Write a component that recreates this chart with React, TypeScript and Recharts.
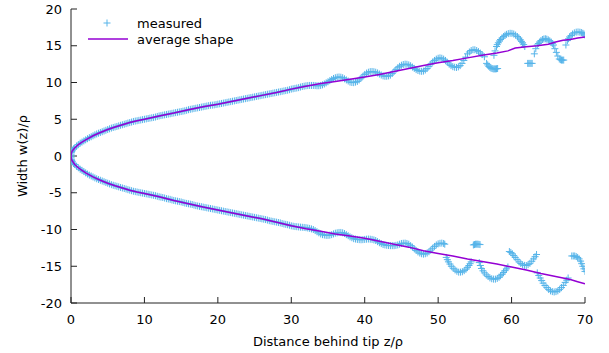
import React from 'react';
import { ScatterChart, Scatter, XAxis, YAxis, Legend } from 'recharts';

const xTicks = [0, 10, 20, 30, 40, 50, 60, 70];
const yTicks = [-20, -15, -10, -5, 0, 5, 10, 15, 20];

const measuredUpperSmooth = [[0,0],[0.02,0.25],[0.05,0.45],[0.1,0.6],[0.2,0.8],[0.35,0.95],[0.5,1.1],[0.75,1.35],[1,1.55],[1.25,1.75],[1.5,1.9],[1.75,2.05],[2,2.2],[2.5,2.5],[3,2.75],[3.5,3.0],[4,3.2],[4.5,3.4],[5,3.6],[5.5,3.8],[6,3.95],[6.5,4.1],[7,4.25],[7.5,4.4],[8,4.55],[8.5,4.7],[9,4.8],[9.5,4.9],[10,5.0],[10.5,5.1],[11,5.2],[11.5,5.3],[12,5.45],[12.5,5.55],[13,5.65],[13.5,5.75],[14,5.85],[14.5,5.95],[15,6.05],[15.5,6.15],[16,6.3],[16.5,6.4],[17,6.5],[17.5,6.6],[18,6.7],[18.5,6.8],[19,6.9],[19.5,6.95],[20,7.05],[20.5,7.15],[21,7.25],[21.5,7.35],[22,7.45],[22.5,7.55],[23,7.65],[23.5,7.75],[24,7.85],[24.5,7.95],[25,8.05],[25.5,8.15],[26,8.25],[26.5,8.35],[27,8.45],[27.5,8.55],[28,8.65],[28.5,8.75],[29,8.85],[29.5,8.95],[30,9.1],[30.5,9.2],[31,9.3],[31.5,9.45]];

const measuredUpperSmoothB = [[2.25,2.35],[2.75,2.62],[3.25,2.88],[3.75,3.1],[4.25,3.3],[4.75,3.5],[5.25,3.7],[5.75,3.88],[6.25,4.02],[6.75,4.18],[7.25,4.32],[7.75,4.48],[8.25,4.62],[8.75,4.75],[9.25,4.85],[9.75,4.95],[10.25,5.05],[10.75,5.15],[11.25,5.25],[11.75,5.38],[12.25,5.5],[12.75,5.6],[13.25,5.7],[13.75,5.8],[14.25,5.9],[14.75,6.0],[15.25,6.1],[15.75,6.22],[16.25,6.35],[16.75,6.45],[17.25,6.55],[17.75,6.65],[18.25,6.75],[18.75,6.85],[19.25,6.92],[19.75,7.0],[20.25,7.1],[20.75,7.2],[21.25,7.3],[21.75,7.4],[22.25,7.5],[22.75,7.6],[23.25,7.7],[23.75,7.8],[24.25,7.9],[24.75,8.0],[25.25,8.1],[25.75,8.2],[26.25,8.3],[26.75,8.4],[27.25,8.5],[27.75,8.6],[28.25,8.7],[28.75,8.8],[29.25,8.9],[29.75,9.02],[30.25,9.15],[30.75,9.25],[31.25,9.38],[31.75,9.5]];

const measuredUpperWave = [[32,9.55],[32.25,9.58],[32.5,9.6],[32.75,9.6],[33,9.6],[33.25,9.58],[33.5,9.55],[33.75,9.56],[34,9.6],[34.25,9.68],[34.5,9.8],[34.75,9.95],[35,10.1],[35.25,10.25],[35.5,10.4],[35.75,10.55],[36,10.65],[36.25,10.72],[36.5,10.75],[36.75,10.72],[37,10.65],[37.25,10.5],[37.5,10.35],[37.75,10.2],[38,10.05],[38.25,10.0],[38.5,9.98],[38.75,10.05],[39,10.15],[39.25,10.35],[39.5,10.6],[39.75,10.85],[40,11.1],[40.25,11.28],[40.5,11.4],[40.75,11.48],[41,11.5],[41.25,11.47],[41.5,11.4],[41.75,11.3],[42,11.15],[42.25,11.02],[42.5,10.9],[42.75,10.85],[43,10.85],[43.25,10.9],[43.5,11.0],[43.75,11.22],[44,11.5],[44.25,11.75],[44.5,12.0],[44.75,12.2],[45,12.35],[45.25,12.45],[45.5,12.5],[45.75,12.48],[46,12.4],[46.25,12.28],[46.5,12.1],[46.75,11.92],[47,11.75],[47.25,11.63],[47.5,11.55],[47.75,11.52],[48,11.55],[48.25,11.7],[48.5,11.9],[48.75,12.2],[49,12.5],[49.25,12.78],[49.5,13.0],[49.75,13.18],[50,13.3],[50.25,13.35],[50.5,13.3],[50.75,13.18],[51,13.0],[51.25,12.75],[51.5,12.5],[51.75,12.3],[52,12.15],[52.25,12.08],[52.5,12.05],[52.75,12.12],[53,12.3],[53.25,12.6],[53.5,13.0],[53.75,13.45],[54,13.9],[54.25,14.15],[54.5,14.35],[54.75,14.45],[55,14.45],[55.25,14.35],[55.5,14.2],[55.75,14.0],[56,13.8],[56.3,13.5]];

const measuredUpperTail = [[56.6,12.6],[56.75,12.4],[56.9,12.2],[57.05,12.05],[57.2,11.95],[57.35,11.9],[57.5,11.85],[57.65,11.85],[57.8,11.85],[57.95,11.87],[58.1,11.9],[57.6,13.7],[57.75,14.3],[57.95,14.9],[58.05,15.15],[58.2,15.4],[58.35,15.65],[58.5,15.85],[58.7,16.05],[58.9,16.25],[59.1,16.42],[59.3,16.55],[59.55,16.65],[59.8,16.7],[60.05,16.68],[60.3,16.6],[60.55,16.45],[60.8,16.25],[61.0,16.05],[61.2,15.8],[61.35,15.6],[61.5,15.4],[61.65,15.15],[61.8,14.9],[62.2,12.6],[62.35,12.6],[62.5,12.6],[62.65,12.6],[62.8,12.6],[63.1,13.9],[63.3,14.6],[63.5,15.1],[63.65,15.3],[63.8,15.5],[64.0,15.7],[64.2,15.85],[64.4,15.92],[64.6,15.95],[64.8,15.9],[65,15.8],[65.2,15.67],[65.4,15.5],[65.55,15.3],[65.7,15.1],[65.9,14.6],[66.1,14.1],[66.3,13.6],[66.5,13.2],[66.65,13.1],[66.8,13.05],[66.95,13.05],[67.1,13.05],[67.4,15.1],[67.6,15.7],[67.75,15.95],[67.9,16.2],[68.1,16.4],[68.3,16.6],[68.55,16.75],[68.8,16.85],[69.05,16.88],[69.3,16.85],[69.5,16.8],[69.7,16.7],[69.85,16.6],[70,16.45]];

const measuredLowerSmooth = [[0,0],[0.02,-0.25],[0.05,-0.45],[0.1,-0.6],[0.2,-0.8],[0.35,-1.0],[0.5,-1.15],[0.75,-1.4],[1,-1.6],[1.25,-1.8],[1.5,-1.95],[1.75,-2.12],[2,-2.3],[2.5,-2.6],[3,-2.85],[3.5,-3.1],[4,-3.3],[4.5,-3.5],[5,-3.7],[5.5,-3.9],[6,-4.05],[6.5,-4.2],[7,-4.35],[7.5,-4.5],[8,-4.65],[8.5,-4.8],[9,-4.9],[9.5,-5.0],[10,-5.1],[10.5,-5.2],[11,-5.3],[11.5,-5.4],[12,-5.55],[12.5,-5.65],[13,-5.8],[13.5,-5.9],[14,-6.05],[14.5,-6.15],[15,-6.25],[15.5,-6.4],[16,-6.5],[16.5,-6.6],[17,-6.75],[17.5,-6.85],[18,-6.95],[18.5,-7.05],[19,-7.15],[19.5,-7.25],[20,-7.35],[20.5,-7.45],[21,-7.55],[21.5,-7.65],[22,-7.75],[22.5,-7.85],[23,-7.95],[23.5,-8.05],[24,-8.15],[24.5,-8.25],[25,-8.35],[25.5,-8.45],[26,-8.55],[26.5,-8.65],[27,-8.8],[27.5,-8.9],[28,-9.0],[28.5,-9.1],[29,-9.25],[29.5,-9.35],[30,-9.5],[30.5,-9.6],[31,-9.65],[31.5,-9.7]];

const measuredLowerSmoothB = [[2.25,-2.45],[2.75,-2.72],[3.25,-2.98],[3.75,-3.2],[4.25,-3.4],[4.75,-3.6],[5.25,-3.8],[5.75,-3.98],[6.25,-4.12],[6.75,-4.28],[7.25,-4.42],[7.75,-4.58],[8.25,-4.72],[8.75,-4.85],[9.25,-4.95],[9.75,-5.05],[10.25,-5.15],[10.75,-5.25],[11.25,-5.35],[11.75,-5.48],[12.25,-5.6],[12.75,-5.72],[13.25,-5.85],[13.75,-5.98],[14.25,-6.1],[14.75,-6.2],[15.25,-6.32],[15.75,-6.45],[16.25,-6.55],[16.75,-6.68],[17.25,-6.8],[17.75,-6.9],[18.25,-7.0],[18.75,-7.1],[19.25,-7.2],[19.75,-7.3],[20.25,-7.4],[20.75,-7.5],[21.25,-7.6],[21.75,-7.7],[22.25,-7.8],[22.75,-7.9],[23.25,-8.0],[23.75,-8.1],[24.25,-8.2],[24.75,-8.3],[25.25,-8.4],[25.75,-8.5],[26.25,-8.6],[26.75,-8.72],[27.25,-8.85],[27.75,-8.95],[28.25,-9.05],[28.75,-9.18],[29.25,-9.3],[29.75,-9.42],[30.25,-9.55],[30.75,-9.62],[31.25,-9.68],[31.75,-9.72]];

const measuredLowerWave = [[32,-9.75],[32.25,-9.8],[32.5,-9.85],[32.75,-9.92],[33,-10.0],[33.25,-10.15],[33.5,-10.3],[33.75,-10.45],[34,-10.6],[34.25,-10.7],[34.5,-10.75],[34.75,-10.8],[35,-10.8],[35.25,-10.77],[35.5,-10.7],[35.75,-10.6],[36,-10.5],[36.25,-10.45],[36.5,-10.4],[36.75,-10.4],[37,-10.45],[37.25,-10.55],[37.5,-10.7],[37.75,-10.85],[38,-11.0],[38.25,-11.12],[38.5,-11.25],[38.75,-11.3],[39,-11.35],[39.25,-11.38],[39.5,-11.4],[39.75,-11.38],[40,-11.35],[40.25,-11.32],[40.5,-11.3],[40.75,-11.32],[41,-11.35],[41.25,-11.42],[41.5,-11.5],[41.75,-11.65],[42,-11.8],[42.25,-11.92],[42.5,-12.05],[42.75,-12.1],[43,-12.15],[43.25,-12.18],[43.5,-12.2],[43.75,-12.2],[44,-12.2],[44.25,-12.16],[44.5,-12.1],[44.75,-12.0],[45,-11.9],[45.25,-11.87],[45.5,-11.85],[45.75,-11.9],[46,-12.0],[46.25,-12.2],[46.5,-12.4],[46.75,-12.62],[47,-12.85],[47.25,-13.05],[47.5,-13.2],[47.75,-13.3],[48,-13.35],[48.25,-13.3],[48.5,-13.2],[48.75,-13.02],[49,-12.8],[49.25,-12.55],[49.5,-12.3],[49.75,-12.1],[50,-11.95],[50.25,-11.88],[50.5,-11.85],[50.75,-11.9],[50.9,-12.0]];

const measuredLowerTail = [[51.1,-13.8],[51.25,-14.1],[51.4,-14.4],[51.6,-14.7],[51.8,-15.0],[52.05,-15.28],[52.3,-15.5],[52.55,-15.68],[52.8,-15.8],[53.05,-15.8],[53.3,-15.75],[53.55,-15.6],[53.8,-15.4],[54.0,-15.15],[54.2,-14.9],[54.35,-14.65],[54.5,-14.4],[54.8,-12.1],[54.95,-12.05],[55.1,-12.0],[55.25,-12.0],[55.4,-12.0],[55.55,-12.02],[55.7,-12.05],[55.6,-14.5],[55.75,-14.9],[55.9,-15.3],[56.1,-15.62],[56.3,-15.9],[56.55,-16.18],[56.8,-16.4],[57.05,-16.58],[57.3,-16.7],[57.55,-16.75],[57.8,-16.75],[58.05,-16.65],[58.3,-16.5],[58.5,-16.3],[58.7,-16.1],[58.9,-15.85],[59.1,-15.6],[59.3,-15.35],[59.5,-15.1],[59.7,-13.0],[59.9,-13.12],[60.1,-13.3],[60.3,-13.55],[60.5,-13.8],[60.75,-14.1],[61,-14.4],[61.25,-14.62],[61.5,-14.8],[61.75,-14.88],[62,-14.9],[62.25,-14.78],[62.5,-14.6],[62.75,-14.32],[63,-14.0],[63.2,-13.7],[63.4,-13.4],[63.5,-15.9],[63.7,-16.25],[63.9,-16.6],[64.1,-16.95],[64.3,-17.3],[64.55,-17.62],[64.8,-17.9],[65.05,-18.15],[65.3,-18.35],[65.55,-18.45],[65.8,-18.5],[66.05,-18.45],[66.3,-18.35],[66.55,-18.15],[66.8,-17.9],[67.05,-17.6],[67.3,-17.2],[67.5,-16.9],[67.7,-16.6],[68.2,-13.6],[68.4,-13.6],[68.6,-13.6],[68.8,-13.68],[69,-13.8],[69.2,-14.0],[69.4,-14.3],[69.55,-14.65],[69.7,-15.0],[69.85,-15.35],[70,-15.7]];

const averageUpper = [[0,0],[0.05,0.4],[0.15,0.65],[0.3,0.85],[0.5,1.1],[1,1.55],[1.5,1.9],[2,2.2],[3,2.75],[4,3.2],[5,3.6],[6,3.95],[7,4.25],[8,4.55],[9,4.8],[10,5.0],[12,5.45],[14,5.85],[16,6.3],[18,6.7],[20,7.05],[22,7.45],[24,7.85],[26,8.25],[28,8.65],[30,9.1],[32,9.5],[34,9.85],[36,10.15],[38,10.45],[40,10.75],[42,11.1],[44,11.5],[46,11.9],[48,12.3],[50,12.7],[52,13.0],[54,13.35],[56,13.7],[58,14.0],[59.5,14.3],[60.5,14.7],[62,14.85],[63.5,15.0],[65,15.2],[66,15.5],[67,15.75],[68,15.85],[69,16.05],[70,16.2]];

const averageLower = [[0,0],[0.05,-0.4],[0.15,-0.65],[0.3,-0.85],[0.5,-1.15],[1,-1.6],[1.5,-1.95],[2,-2.3],[3,-2.85],[4,-3.3],[5,-3.7],[6,-4.05],[7,-4.35],[8,-4.65],[9,-4.9],[10,-5.1],[12,-5.55],[14,-6.05],[16,-6.5],[18,-6.95],[20,-7.35],[22,-7.75],[24,-8.15],[26,-8.55],[28,-9.0],[30,-9.5],[32,-9.9],[34,-10.25],[36,-10.6],[38,-10.9],[40,-11.2],[42,-11.6],[44,-12.0],[46,-12.4],[48,-12.9],[50,-13.25],[52,-13.6],[54,-14.0],[56,-14.35],[58,-14.7],[60,-15.1],[62,-15.5],[64,-16.0],[66,-16.4],[68,-16.8],[69,-17.1],[70,-17.4]];

const seriesNames = ['measured', 'average shape'];
const xLabel = 'Distance behind tip z/ρ';
const yLabel = 'Width w(z)/ρ';

const toPoints = (arr: number[][]) => arr.map(([z, w]) => ({ z, w }));

const measuredData = toPoints([
  ...measuredUpperSmooth, ...measuredUpperSmoothB, ...measuredUpperWave, ...measuredUpperTail,
  ...measuredLowerSmooth, ...measuredLowerSmoothB, ...measuredLowerWave, ...measuredLowerTail,
]);
const averageData = toPoints([...averageUpper.slice().reverse(), ...averageLower.slice(1)]);

const MEASURED_COLOR = '#56b4e9';
const AVERAGE_COLOR = '#9400d3';
const AXIS_COLOR = '#222';
const FONT = 'DejaVu Sans';

const Cross = (props: any) => {
  const { cx, cy } = props;
  if (cx == null || cy == null) return <g />;
  return (
    <path
      d={`M${cx - 3.5},${cy}H${cx + 3.5}M${cx},${cy - 3.5}V${cy + 3.5}`}
      stroke={MEASURED_COLOR}
      strokeWidth={1}
      fill="none"
    />
  );
};

const NoDot = () => <g />;
const EmptyTick = () => <g />;

const renderLegend = () => (
  <svg width={240} height={50} style={{ display: 'block', overflow: 'visible' }}>
    <path d="M103.5,23H110.5M107,19.5V26.5" stroke={MEASURED_COLOR} strokeWidth={1} fill="none" />
    <text x={137} y={23} dominantBaseline="central" fontSize={13} fontFamily={FONT} fill="#000">{seriesNames[0]}</text>
    <line x1={88} x2={128} y1={39} y2={39} stroke={AVERAGE_COLOR} strokeWidth={1.5} />
    <text x={137} y={39} dominantBaseline="central" fontSize={13} fontFamily={FONT} fill="#000">{seriesNames[1]}</text>
  </svg>
);

const tickStyle = { fill: '#000', fontSize: 13, fontFamily: FONT };

export default function App() {
  return (
    <div style={{ position: 'absolute', left: 0, top: 0, background: '#fff' }}>
      <ScatterChart
        width={609}
        height={353}
        margin={{ top: 9, right: 24, bottom: 0, left: 0 }}
        style={{ fontFamily: FONT }}
      >
        <XAxis
          type="number"
          dataKey="z"
          domain={[0, 70]}
          ticks={xTicks}
          allowDataOverflow
          height={50}
          tick={tickStyle}
          tickSize={-6}
          tickMargin={18}
          axisLine={{ stroke: AXIS_COLOR }}
          tickLine={{ stroke: AXIS_COLOR }}
          label={{
            content: (p: any) => {
              const vb = p.viewBox || { x: 71, width: 514 };
              return (
                <text x={vb.x + vb.width / 2} y={345.5} textAnchor="middle" fontSize={13} fontFamily={FONT} fill="#000">
                  {xLabel}
                </text>
              );
            },
          }}
        />
        <XAxis
          xAxisId="top"
          orientation="top"
          type="number"
          dataKey="z"
          domain={[0, 70]}
          ticks={xTicks}
          allowDataOverflow
          height={0}
          tick={EmptyTick}
          tickSize={-6}
          axisLine={{ stroke: AXIS_COLOR }}
          tickLine={{ stroke: AXIS_COLOR }}
        />
        <YAxis
          type="number"
          dataKey="w"
          domain={[-20, 20]}
          ticks={yTicks}
          allowDataOverflow
          width={71}
          tick={tickStyle}
          tickSize={-6}
          tickMargin={15}
          axisLine={{ stroke: AXIS_COLOR }}
          tickLine={{ stroke: AXIS_COLOR }}
          label={{
            content: (p: any) => {
              const vb = p.viewBox || { y: 9, height: 294 };
              const cy = vb.y + vb.height / 2;
              return (
                <text x={22} y={cy} transform={`rotate(-90 22 ${cy})`} textAnchor="middle" dominantBaseline="central" fontSize={13} fontFamily={FONT} fill="#000">
                  {yLabel}
                </text>
              );
            },
          }}
        />
        <YAxis
          yAxisId="right"
          orientation="right"
          type="number"
          dataKey="w"
          domain={[-20, 20]}
          ticks={yTicks}
          allowDataOverflow
          width={0}
          tick={EmptyTick}
          tickSize={-6}
          axisLine={{ stroke: AXIS_COLOR }}
          tickLine={{ stroke: AXIS_COLOR }}
        />
        <Legend
          content={renderLegend}
          layout="horizontal"
          verticalAlign="middle"
          align="center"
          wrapperStyle={{ position: 'absolute', left: 0, top: 0, width: 240, height: 50 }}
        />
        <Scatter
          name={seriesNames[0]}
          data={measuredData}
          shape={Cross}
          isAnimationActive={false}
        />
        <Scatter
          name={seriesNames[1]}
          data={averageData}
          shape={NoDot}
          line={{ stroke: AVERAGE_COLOR, strokeWidth: 1.5 }}
          lineJointType="linear"
          isAnimationActive={false}
        />
      </ScatterChart>
    </div>
  );
}
